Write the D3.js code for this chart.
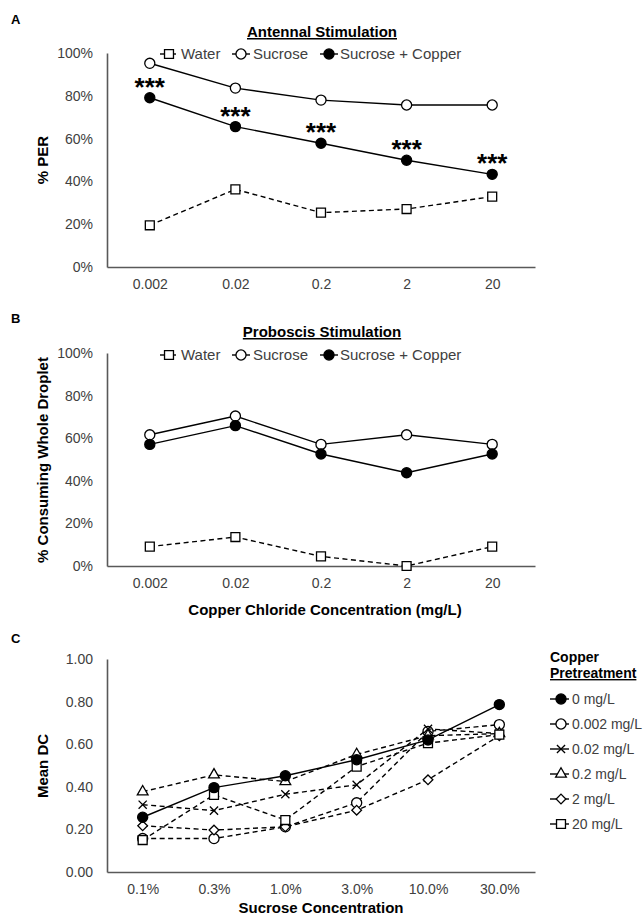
<!DOCTYPE html>
<html>
<head>
<meta charset="utf-8">
<script src="https://cdn.jsdelivr.net/npm/d3@7"></script>
<style>
  body { margin: 0; background: #fff; }
  svg { font-family: "Liberation Sans", Arial, sans-serif; }
</style>
</head>
<body>
<svg id="fig" width="644" height="917"></svg>
<script>
// ---- data ----
var copperConc = ["0.002", "0.02", "0.2", "2", "20"];
var seriesNames = ["Water", "Sucrose", "Sucrose + Copper"];

// panel A: antennal stimulation (% PER)
var aWater   = [0.195, 0.363, 0.254, 0.271, 0.329];
var aSucrose = [0.952, 0.836, 0.780, 0.757, 0.757];
var aCopper  = [0.791, 0.656, 0.578, 0.499, 0.433];

// panel B: proboscis stimulation (% consuming whole droplet)
var bWater   = [0.091, 0.136, 0.045, 0.0, 0.091];
var bSucrose = [0.616, 0.704, 0.571, 0.616, 0.571];
var bCopper  = [0.571, 0.659, 0.526, 0.438, 0.526];

// panel C: mean DC by sucrose concentration
var sucroseConc = ["0.1%", "0.3%", "1.0%", "3.0%", "10.0%", "30.0%"];
var pretreatNames = ["0 mg/L", "0.002 mg/L", "0.02 mg/L", "0.2 mg/L", "2 mg/L", "20 mg/L"];
var c0    = [0.257, 0.396, 0.452, 0.527, 0.620, 0.786];
var c0002 = [0.157, 0.157, 0.212, 0.325, 0.660, 0.692];
var c002  = [0.316, 0.288, 0.365, 0.409, 0.672, 0.650];
var c02   = [0.377, 0.456, 0.425, 0.552, 0.640, 0.650];
var c2    = [0.217, 0.197, 0.212, 0.290, 0.433, 0.640];
var c20   = [0.150, 0.362, 0.244, 0.495, 0.605, 0.645];

var svg = d3.select("#fig");
var axisColor = "#595959";
var textColor = "#404040";

var sym = {
  square:   d3.symbol().type(d3.symbolSquare).size(80),
  circle:   d3.symbol().type(d3.symbolCircle).size(80),
  times:    d3.symbol().type(d3.symbolTimes).size(45),
  triangle: d3.symbol().type(d3.symbolTriangle).size(50),
  diamond:  d3.symbol().type(d3.symbolDiamond2).size(60)
};

function drawMarker(g, x, y, shape, filled) {
  g.append("path")
    .attr("d", sym[shape]())
    .attr("transform", "translate(" + x + "," + y + ")")
    .attr("fill", shape == "times" ? "none" : (filled ? "#000" : "#fff"))
    .attr("stroke", "#000")
    .attr("stroke-width", 1.3);
}

function drawSeries(g, x, y, cats, vals, shape, filled, dashed) {
  var line = d3.line()
    .x(function (d, i) { return x(cats[i]); })
    .y(function (d) { return y(d); });
  g.append("path")
    .datum(vals)
    .attr("d", line)
    .attr("fill", "none")
    .attr("stroke", "#000")
    .attr("stroke-width", 1.4)
    .attr("stroke-dasharray", dashed ? "5,3.5" : null);
  vals.forEach(function (v, i) {
    drawMarker(g, x(cats[i]), y(v), shape, filled);
  });
}

function drawAxes(g, x, y, yTicks, yFormat) {
  var yAxis = d3.axisLeft(y).tickValues(yTicks).tickSize(0).tickPadding(14).tickFormat(yFormat);
  var ya = g.append("g").attr("transform", "translate(" + x.range()[0] + ",0)").call(yAxis);
  var xAxis = d3.axisBottom(x).tickSize(0).tickPadding(12);
  var xa = g.append("g").attr("transform", "translate(0," + y.range()[0] + ")").call(xAxis);
  [ya, xa].forEach(function (a) {
    a.select(".domain").attr("stroke", axisColor).attr("stroke-width", 1.6);
    a.selectAll("text").attr("font-size", 14).attr("fill", textColor)
      .attr("font-family", "Liberation Sans, Arial, sans-serif");
  });
}

function panelLabel(txt, y) {
  svg.append("text").attr("x", 11).attr("y", y).attr("font-size", 13)
    .attr("font-weight", "bold").text(txt);
}

function chartTitle(txt, y) {
  svg.append("text").attr("x", 322).attr("y", y).attr("text-anchor", "middle")
    .attr("font-size", 15).attr("font-weight", "bold")
    .attr("text-decoration", "underline").text(txt);
}

function yTitle(txt, cy) {
  svg.append("text")
    .attr("transform", "translate(48," + cy + ") rotate(-90)")
    .attr("text-anchor", "middle").attr("font-size", 15).attr("font-weight", "bold")
    .text(txt);
}

function topLegend(y) {
  var g = svg.append("g");
  var items = [
    {name: seriesNames[0], shape: "square", filled: false, cx: 169, x0: 160, x1: 176, tx: 181},
    {name: seriesNames[1], shape: "circle", filled: false, cx: 241, x0: 232, x1: 250, tx: 253},
    {name: seriesNames[2], shape: "circle", filled: true,  cx: 329, x0: 320, x1: 338, tx: 340}
  ];
  items.forEach(function (it) {
    g.append("line").attr("x1", it.x0).attr("x2", it.x1).attr("y1", y).attr("y2", y)
      .attr("stroke", "#000").attr("stroke-width", 1.4);
    drawMarker(g, it.cx, y, it.shape, it.filled);
    g.append("text").attr("x", it.tx).attr("y", y + 5).attr("font-size", 15)
      .attr("fill", textColor).text(it.name);
  });
}

var pctFmt = function (d) { return Math.round(d * 100) + "%"; };
var pctTicks = [0, 0.2, 0.4, 0.6, 0.8, 1];

// ---- panel A ----
var xA = d3.scalePoint().domain(copperConc).range([107, 535]).padding(0.5);
var yA = d3.scaleLinear().domain([0, 1]).range([267, 53]);
var gA = svg.append("g");
drawAxes(gA, xA, yA, pctTicks, pctFmt);
drawSeries(gA, xA, yA, copperConc, aWater, "square", false, true);
drawSeries(gA, xA, yA, copperConc, aSucrose, "circle", false, false);
drawSeries(gA, xA, yA, copperConc, aCopper, "circle", true, false);
aCopper.forEach(function (v, i) {
  gA.append("text").attr("x", xA(copperConc[i])).attr("y", yA(v) - 2)
    .attr("text-anchor", "middle").attr("font-size", 26).attr("font-weight", "bold")
    .text("***");
});
panelLabel("A", 24);
chartTitle("Antennal Stimulation", 37);
topLegend(54);
yTitle("% PER", 160);

// ---- panel B ----
var xB = d3.scalePoint().domain(copperConc).range([107, 535]).padding(0.5);
var yB = d3.scaleLinear().domain([0, 1]).range([566, 353]);
var gB = svg.append("g");
drawAxes(gB, xB, yB, pctTicks, pctFmt);
drawSeries(gB, xB, yB, copperConc, bWater, "square", false, true);
drawSeries(gB, xB, yB, copperConc, bSucrose, "circle", false, false);
drawSeries(gB, xB, yB, copperConc, bCopper, "circle", true, false);
panelLabel("B", 323);
chartTitle("Proboscis Stimulation", 337);
topLegend(355);
yTitle("% Consuming Whole Droplet", 460);
svg.append("text").attr("x", 325).attr("y", 615).attr("text-anchor", "middle")
  .attr("font-size", 15).attr("font-weight", "bold")
  .text("Copper Chloride Concentration (mg/L)");

// ---- panel C ----
var xC = d3.scalePoint().domain(sucroseConc).range([107, 535]).padding(0.5);
var yC = d3.scaleLinear().domain([0, 1]).range([872, 659]);
var gC = svg.append("g");
drawAxes(gC, xC, yC, [0, 0.2, 0.4, 0.6, 0.8, 1], d3.format(".2f"));
var cSeries = [
  {vals: c0002, shape: "circle",   filled: false, dashed: true},
  {vals: c002,  shape: "times",    filled: false, dashed: true},
  {vals: c02,   shape: "triangle", filled: false, dashed: true},
  {vals: c2,    shape: "diamond",  filled: false, dashed: true},
  {vals: c20,   shape: "square",   filled: false, dashed: true},
  {vals: c0,    shape: "circle",   filled: true,  dashed: false}
];
cSeries.forEach(function (s) {
  drawSeries(gC, xC, yC, sucroseConc, s.vals, s.shape, s.filled, s.dashed);
});
panelLabel("C", 643);
yTitle("Mean DC", 766);
svg.append("text").attr("x", 321).attr("y", 913).attr("text-anchor", "middle")
  .attr("font-size", 15).attr("font-weight", "bold").text("Sucrose Concentration");

// legend C
var lg = svg.append("g");
lg.append("text").attr("x", 550).attr("y", 662).attr("font-size", 14)
  .attr("font-weight", "bold").text("Copper");
lg.append("text").attr("x", 550).attr("y", 678).attr("font-size", 14)
  .attr("font-weight", "bold").attr("text-decoration", "underline").text("Pretreatment");
var legendShapes = [
  {shape: "circle", filled: true}, {shape: "circle", filled: false},
  {shape: "times", filled: false}, {shape: "triangle", filled: false},
  {shape: "diamond", filled: false}, {shape: "square", filled: false}
];
pretreatNames.forEach(function (name, i) {
  var ly = 699 + i * 25;
  lg.append("line").attr("x1", 550).attr("x2", 569).attr("y1", ly).attr("y2", ly)
    .attr("stroke", "#000").attr("stroke-width", 1.4);
  drawMarker(lg, 561, ly, legendShapes[i].shape, legendShapes[i].filled);
  lg.append("text").attr("x", 572).attr("y", ly + 5).attr("font-size", 14)
    .attr("fill", textColor).text(name);
});
</script>
</body>
</html>
